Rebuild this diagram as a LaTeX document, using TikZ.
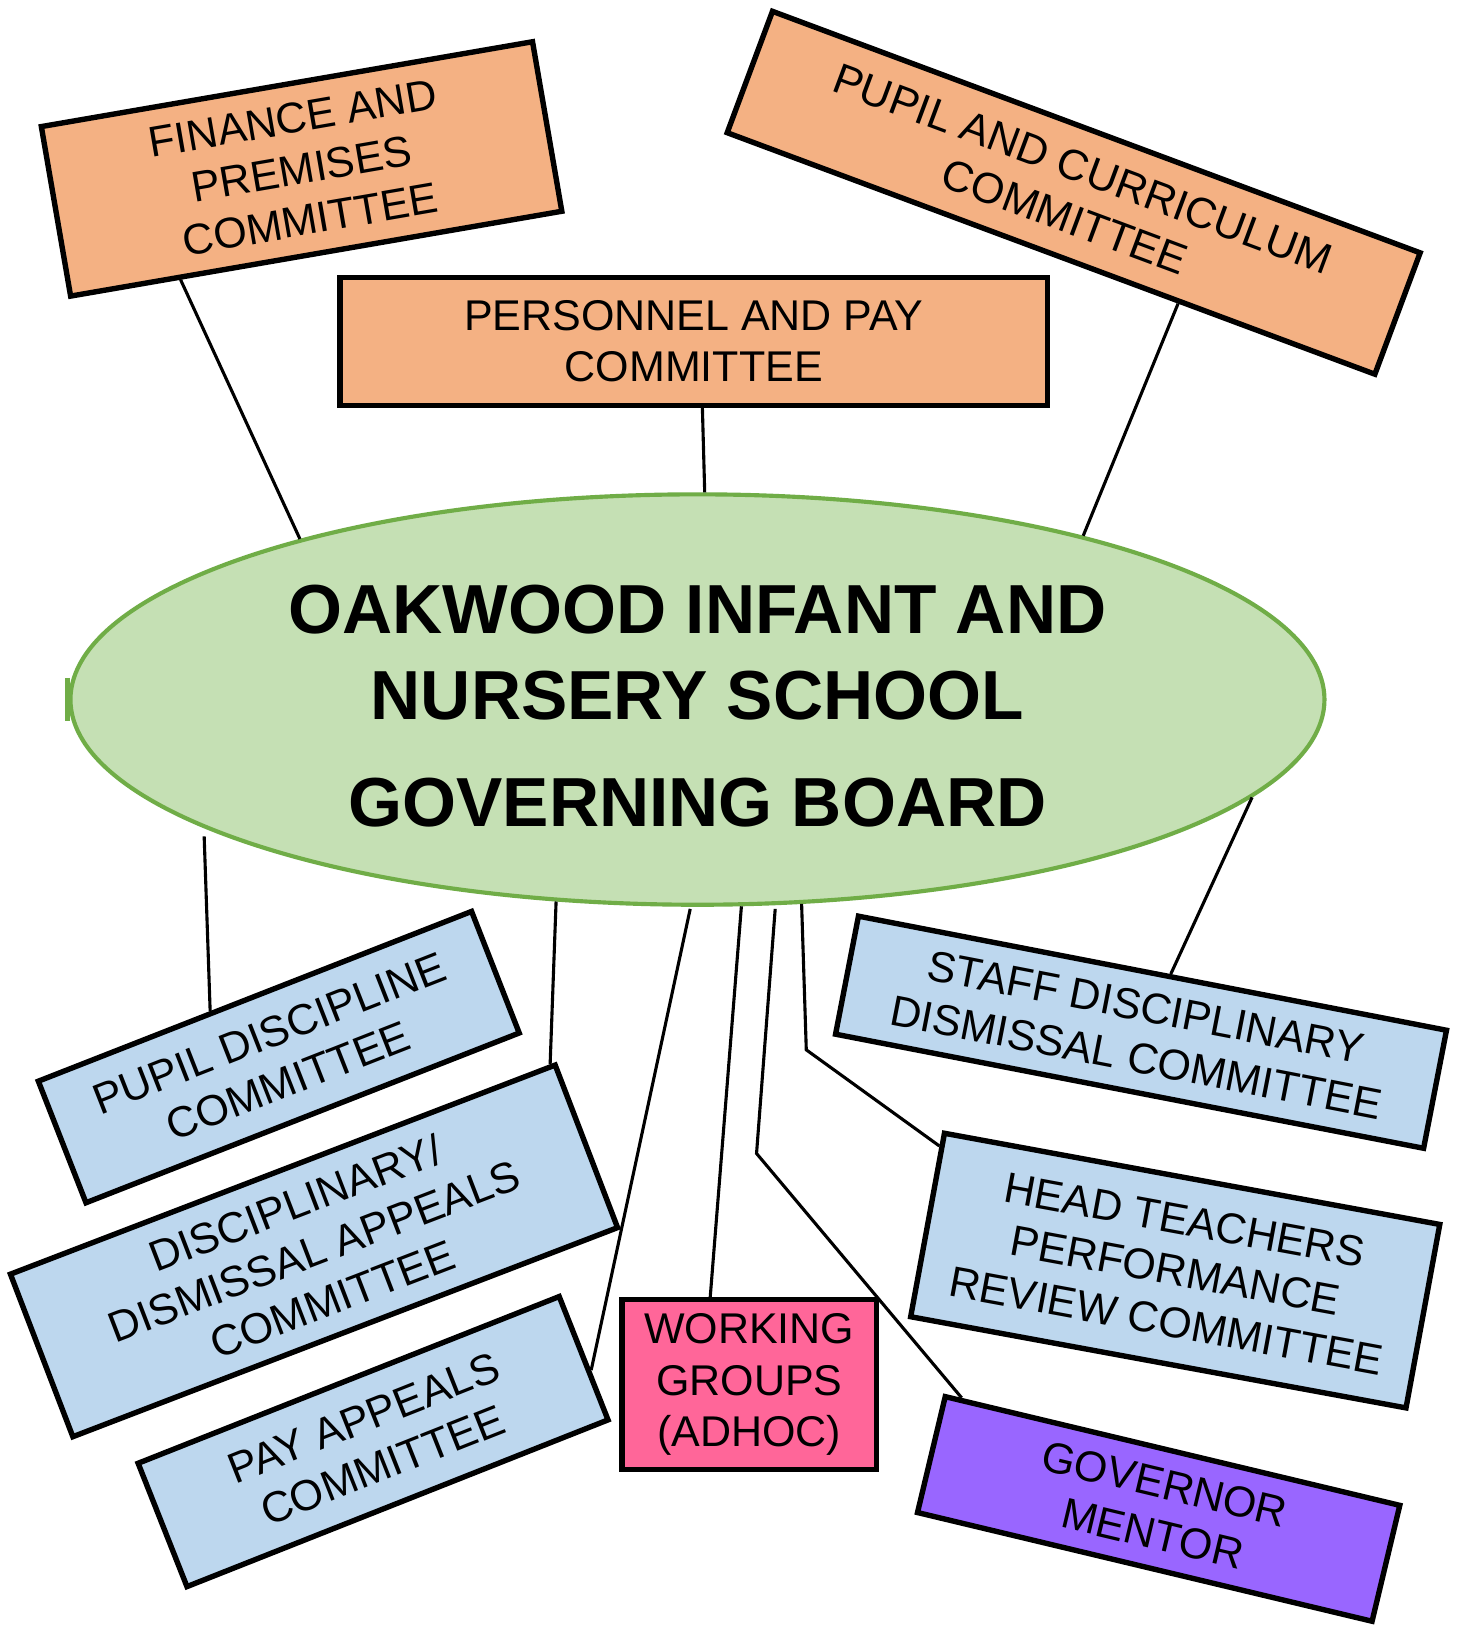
\documentclass[tikz,border=0pt]{standalone}
\usepackage{fontspec}
\setmainfont{Liberation Sans}
\usetikzlibrary{shapes.geometric,calc}
\definecolor{peach}{HTML}{F4B183}
\definecolor{paleblue}{HTML}{BDD7EE}
\definecolor{palegreen}{HTML}{C5E0B4}
\definecolor{leafgreen}{HTML}{70AD47}
\definecolor{hotpink}{HTML}{FF6699}
\definecolor{violettwo}{HTML}{9966FF}
\begin{document}
\begin{tikzpicture}[x=1pt,y=-1pt,
  box/.style={draw=black, line width=5.2pt, rectangle, inner sep=0pt, align=center,
              font=\fontsize{41.5}{49.5}\selectfont},
  orangebox/.style={box, fill=peach},
  bluebox/.style={box, fill=paleblue},
  link/.style={line width=3pt, draw=black},
  boardstyle/.style={ellipse, draw=leafgreen, line width=4pt, fill=palegreen, inner sep=0pt,
              align=center, font=\fontsize{67}{83}\selectfont\bfseries}
]
\useasboundingbox (0,0) rectangle (1405,1568);
\fill[white] (0,0) rectangle (1405,1568);

% central board
\node[boardstyle, minimum width=1210pt, minimum height=396pt] (board) at (673,675)
  {\rule{0pt}{59pt}OAKWOOD INFANT AND\\NURSERY SCHOOL\\[20pt]GOVERNING BOARD};
\draw[leafgreen, line width=5pt] ($(board.west)+(-1,-21)$) -- ($(board.west)+(-1,21)$);

% top committees
\node[orangebox, rotate=9.8, minimum width=481pt, minimum height=166pt] (fin) at (291,163)
  {FINANCE AND\\PREMISES\\COMMITTEE};
\node[orangebox, minimum width=683pt, minimum height=123pt] (pers) at (669.5,329.5)
  {PERSONNEL AND PAY\\COMMITTEE};
\node[orangebox, rotate=-20.45, minimum width=667pt, minimum height=125pt] (pc) at (1036,186)
  {PUPIL AND CURRICULUM\\COMMITTEE};

% bottom committees
\node[bluebox, rotate=21.4, minimum width=449pt, minimum height=126pt] (pd) at (269,1020)
  {PUPIL DISCIPLINE\\COMMITTEE};
\node[bluebox, rotate=21.0, minimum width=563pt, minimum height=168pt] (dda) at (303,1207)
  {DISCIPLINARY/\\DISMISSAL APPEALS\\COMMITTEE};
\node[bluebox, rotate=21.6, minimum width=437pt, minimum height=128pt] (pay) at (360,1391)
  {PAY APPEALS\\COMMITTEE};
\node[box, fill=hotpink, minimum width=246pt, minimum height=164pt] (wg) at (723,1336)
  {WORKING\\GROUPS\\(ADHOC)};
\node[bluebox, rotate=-10.98, minimum width=578pt, minimum height=116pt] (sdd) at (1101,996)
  {STAFF DISCIPLINARY\\DISMISSAL COMMITTEE};
\node[bluebox, rotate=-10.43, minimum width=486pt, minimum height=180pt] (ht) at (1134,1226)
  {HEAD TEACHERS\\PERFORMANCE\\REVIEW COMMITTEE};
\node[box, fill=violettwo, rotate=-13.45, minimum width=451pt, minimum height=115pt] (gm) at (1118,1456)
  {GOVERNOR\\MENTOR};

% free ends and bends
\coordinate (pdtop) at (197,807);
\coordinate (paytop) at (666,877);
\coordinate (gmtop) at (748,877);
\coordinate (gmbend) at (730,1113);
\coordinate (htbend) at (778,1013);

% connectors
\draw[link] ($(fin.south west)!0.226!(fin.south east)$) -- (board.158.46);
\draw[link] ($(pers.south west)!0.512!(pers.south east)$) -- (board.88.55);
\draw[link] ($(pc.south west)!0.696!(pc.south east)$) -- (board.23.43);
\draw[link] (pdtop) -- ($(pd.north west)!0.40!(pd.north east)$);
\draw[link] (board.235.3) -- ($(dda.north east)!0.012!(dda.north west)$);
\draw[link] (paytop) -- ($(pay.north east)!0.6!(pay.south east)$);
\draw[link] (board.282.8) -- ($(wg.north west)!0.35!(wg.north east)$);
\draw[link] (gmtop) -- (gmbend) -- ($(gm.north west)!0.04!(gm.north east)$);
\draw[link] (board.297.1) -- (htbend) -- ($(ht.north west)!0.084!(ht.south west)$);
\draw[link] (board.350.25) -- ($(sdd.north west)!0.53!(sdd.north east)$);
\end{tikzpicture}
\end{document}
